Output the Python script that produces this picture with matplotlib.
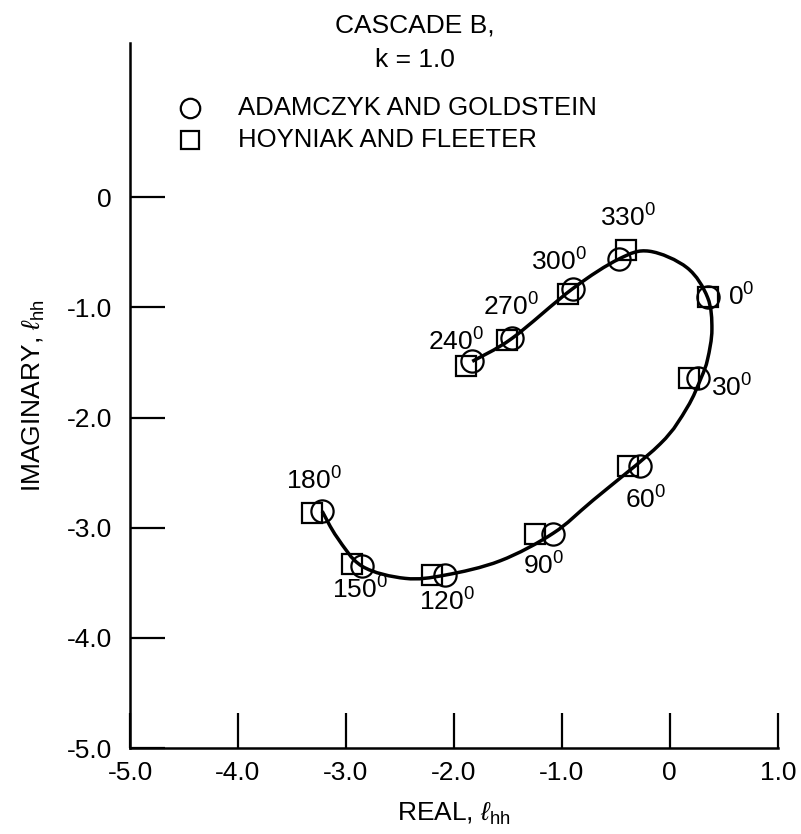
import matplotlib.pyplot as plt
from matplotlib.path import Path
from matplotlib.patches import PathPatch

plt.rcParams['font.family'] = ['Liberation Sans', 'DejaVu Sans']
plt.rcParams['mathtext.fontset'] = 'custom'
plt.rcParams['mathtext.rm'] = 'Liberation Sans'
plt.rcParams['mathtext.it'] = 'Liberation Sans:italic'

# Phase angles of the points
angles = [0, 30, 60, 90, 120, 150, 180, 240, 270, 300, 330]

# Adamczyk and Goldstein (circles)
ag_real = [0.35, 0.26, -0.28, -1.08, -2.08, -2.85, -3.22, -1.83, -1.46, -0.90, -0.47]
ag_imag = [-0.91, -1.64, -2.44, -3.06, -3.43, -3.35, -2.85, -1.49, -1.28, -0.83, -0.56]

# Hoyniak and Fleeter (squares)
hf_real = [0.35, 0.18, -0.39, -1.25, -2.20, -2.94, -3.31, -1.89, -1.51, -0.94, -0.41]
hf_imag = [-0.91, -1.64, -2.44, -3.06, -3.43, -3.33, -2.87, -1.53, -1.30, -0.88, -0.48]

# points along the drawn curve
curve_real = [-1.83, -1.46, -0.90, -0.47, -0.19, 0.16, 0.35, 0.39, 0.35, 0.29,
              0.16, -0.09, -0.71, -1.08, -1.57, -2.08, -2.45, -2.85, -3.08, -3.22]
curve_imag = [-1.49, -1.28, -0.83, -0.56, -0.49, -0.64, -0.91, -1.20, -1.47, -1.64,
              -1.91, -2.24, -2.75, -3.05, -3.30, -3.43, -3.46, -3.35, -3.09, -2.85]

# label positions for the angle annotations
label_x = [0.66, 0.57, -0.22, -1.17, -2.06, -2.87, -3.30, -1.98, -1.47, -1.03, -0.39]
label_y = [-0.91, -1.73, -2.75, -3.35, -3.67, -3.57, -2.58, -1.31, -1.00, -0.59, -0.19]


def smooth_path(xs, ys):
    # Catmull-Rom segments as cubic bezier path through the read points
    pts = list(zip(xs, ys))
    verts = [pts[0]]
    codes = [Path.MOVETO]
    n = len(pts)
    for i in range(n - 1):
        p0 = pts[i - 1] if i > 0 else pts[i]
        p1 = pts[i]
        p2 = pts[i + 1]
        p3 = pts[i + 2] if i + 2 < n else pts[i + 1]
        c1 = (p1[0] + (p2[0] - p0[0]) / 6, p1[1] + (p2[1] - p0[1]) / 6)
        c2 = (p2[0] - (p3[0] - p1[0]) / 6, p2[1] - (p3[1] - p1[1]) / 6)
        verts += [c1, c2, p2]
        codes += [Path.CURVE4] * 3
    return Path(verts, codes)


fig = plt.figure(figsize=(8.01, 8.34), dpi=100)
ax = fig.add_axes([0.1623, 0.1031, 0.8087, 0.8453])

ax.add_patch(PathPatch(smooth_path(curve_real, curve_imag), facecolor='none',
                       edgecolor='black', linewidth=2.5, zorder=2))
ax.plot(hf_real, hf_imag, linestyle='none', marker='s', markersize=14,
        markerfacecolor='none', markeredgecolor='black', markeredgewidth=1.6, zorder=3)
ax.plot(ag_real, ag_imag, linestyle='none', marker='o', markersize=16,
        markerfacecolor='none', markeredgecolor='black', markeredgewidth=1.6, zorder=3)

for a, lx, ly in zip(angles, label_x, label_y):
    ax.text(lx, ly, str(a) + r'$^{\mathrm{0}}$', fontsize=19, ha='center', va='center')

# legend drawn by hand like the original
ax.plot([-4.44], [0.81], linestyle='none', marker='o', markersize=14,
        markerfacecolor='none', markeredgecolor='black', markeredgewidth=1.6)
ax.plot([-4.44], [0.52], linestyle='none', marker='s', markersize=13,
        markerfacecolor='none', markeredgecolor='black', markeredgewidth=1.6)
ax.text(-4.0, 0.81, 'ADAMCZYK AND GOLDSTEIN', fontsize=18.5, va='center')
ax.text(-4.0, 0.52, 'HOYNIAK AND FLEETER', fontsize=18.5, va='center')

fig.text(0.518, 0.970, 'CASCADE B,', fontsize=19, ha='center', va='center')
fig.text(0.518, 0.928, 'k = 1.0', fontsize=19, ha='center', va='center')

ax.set_xlim(-5, 1)
ax.set_ylim(-5, 1.4)
ax.spines['top'].set_visible(False)
ax.spines['right'].set_visible(False)
ax.spines['left'].set_linewidth(1.8)
ax.spines['bottom'].set_linewidth(1.8)

ax.set_xticks([-5, -4, -3, -2, -1, 0, 1])
ax.set_xticklabels(['-5.0', '-4.0', '-3.0', '-2.0', '-1.0', '0', '1.0'])
ax.set_yticks([-5, -4, -3, -2, -1, 0])
ax.set_yticklabels(['-5.0', '-4.0', '-3.0', '-2.0', '-1.0', '0'])
ax.tick_params(axis='both', direction='in', length=25, width=1.6, labelsize=19)
ax.tick_params(axis='x', pad=9)
ax.tick_params(axis='y', pad=13)

ax.set_xlabel(r'REAL, $\ell_{\mathrm{hh}}$', fontsize=19, labelpad=12)
ax.set_ylabel(r'IMAGINARY, $\ell_{\mathrm{hh}}$', fontsize=19, labelpad=14)

fig.savefig('out.png', dpi=100)
